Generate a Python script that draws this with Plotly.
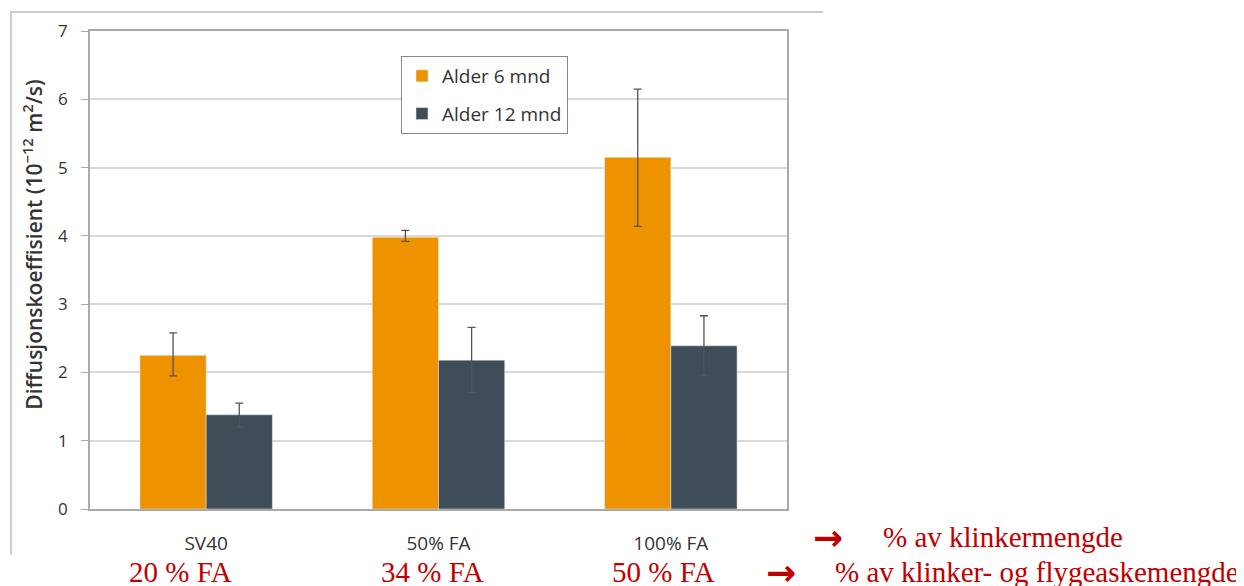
import plotly.graph_objects as go

categories = ["SV40", "50% FA", "100% FA"]
fa_labels = ["20 % FA", "34 % FA", "50 % FA"]
age6 = [2.25, 3.98, 5.15]
age6_lo = [1.95, 3.92, 4.14]
age6_hi = [2.58, 4.08, 6.15]
age12 = [1.38, 2.18, 2.39]
age12_lo = [1.20, 1.71, 1.95]
age12_hi = [1.55, 2.66, 2.83]

# horizontal nudges (px) of the red labels relative to each category centre
label_shift = [-26, -6, -7]

ORANGE = "#EE9200"
DARK = "#3E4D57"
RED = "#C00000"
TXT = "#333333"

def err(v, lo, hi):
    return dict(type="data", symmetric=False,
                array=[h - x for x, h in zip(v, hi)],
                arrayminus=[x - l for x, l in zip(v, lo)],
                color="#555555", thickness=1.3, width=4)

fig = go.Figure()
fig.add_trace(go.Bar(x=categories, y=age6, name="Alder 6 mnd", marker_color=ORANGE,
                     legendgroup="a", error_y=err(age6, age6_lo, age6_hi)))
fig.add_trace(go.Bar(x=categories, y=age12, name="Alder 12 mnd", marker_color=DARK,
                     legendgroup="b", error_y=err(age12, age12_lo, age12_hi)))

font_sans = "Open Sans"
W, H = 1236, 578
fig.update_layout(
    width=W, height=H,
    margin=dict(l=82, r=W - 779, t=23, b=H - 501, autoexpand=False),
    paper_bgcolor="white", plot_bgcolor="white",
    barmode="group", bargap=0.43, bargroupgap=0,
    showlegend=True,
    legend=dict(x=0.4462, y=0.9477, xanchor="left", yanchor="top",
                bordercolor="#888888", borderwidth=1, bgcolor="white",
                font=dict(family=font_sans, size=19, color=TXT),
                tracegroupgap=10, itemwidth=30),
    font=dict(family=font_sans, color=TXT),
)
fig.update_yaxes(range=[0, 7], dtick=1, showgrid=True, gridcolor="#D9D9D9", gridwidth=1.5,
                 showline=True, linecolor="#AAAAAA", linewidth=1.5, mirror=True,
                 ticks="outside", ticklen=7, tickcolor="#AAAAAA", zeroline=False,
                 tickfont=dict(size=17, color=TXT), ticklabelstandoff=10)
fig.update_xaxes(range=[-0.5, 2.5], showline=True, linecolor="#AAAAAA", linewidth=1.5,
                 mirror=True, ticks="", tickfont=dict(size=19, color=TXT),
                 ticklabelstandoff=16)

fig.add_annotation(x=-0.0818, y=0.553, xref="paper", yref="paper", textangle=-90,
                   text="Diffusjonskoeffisient (10<sup>−12</sup> m<sup>2</sup>/s)",
                   showarrow=False, xanchor="center", yanchor="middle",
                   font=dict(family=font_sans, size=21, color=TXT, weight=600))

# outer frame lines
fig.add_shape(type="line", xref="paper", yref="paper", x0=-0.1148, x1=1.0516, y0=1.0397, y1=1.0397,
              line=dict(color="#CCCCCC", width=2))
fig.add_shape(type="line", xref="paper", yref="paper", x0=-0.1133, x1=-0.1133, y0=1.0397, y1=-0.0962,
              line=dict(color="#CCCCCC", width=2))

serif = "Liberation Serif"
row2_y = -0.132
for i, lab in enumerate(fa_labels):
    fig.add_annotation(x=i, y=row2_y, xref="x", yref="paper", text=lab, showarrow=False,
                       xshift=label_shift[i], yanchor="middle",
                       font=dict(family=serif, size=29, color=RED))
arrow_font = dict(family="DejaVu Sans", size=36, color=RED, weight="bold")
fig.add_annotation(x=1.0595, y=-0.0586, xref="paper", yref="paper", text="→", showarrow=False,
                   xanchor="center", yanchor="middle", font=arrow_font)
fig.add_annotation(x=1.1349, y=-0.0586, xref="paper", yref="paper", text="% av klinkermengde",
                   showarrow=False, xanchor="left", yanchor="middle",
                   font=dict(family=serif, size=29, color=RED))
fig.add_annotation(x=0.9921, y=row2_y, xref="paper", yref="paper", text="→", showarrow=False,
                   xanchor="center", yanchor="middle", font=arrow_font)
fig.add_annotation(x=1.066, y=row2_y, xref="paper", yref="paper",
                   text="% av klinker- og flygeaskemengde",
                   showarrow=False, xanchor="left", yanchor="middle",
                   font=dict(family=serif, size=29, color=RED))

fig.write_html("out.html")
